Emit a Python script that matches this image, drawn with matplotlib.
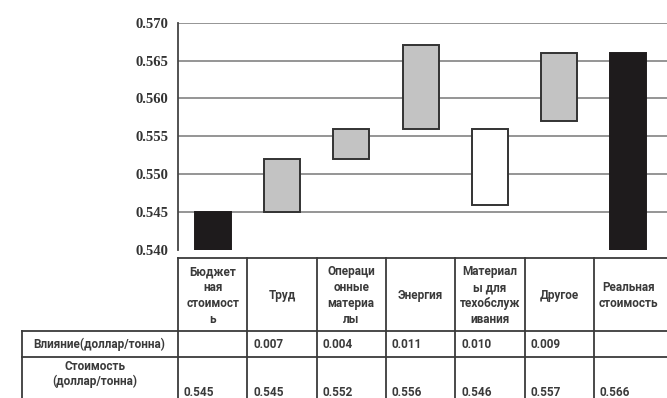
import matplotlib
matplotlib.use("Agg")
import matplotlib.pyplot as plt
import numpy as np

# ---- data ----
categories = ["Бюджет\nная\nстоимост\nь", "Труд", "Операци\nонные\nматериа\nлы",
              "Энергия", "Материал\nы для\nтехобслуж\nивания", "Другое",
              "Реальная\nстоимость"]
impact = [None, 0.007, 0.004, 0.011, 0.010, 0.009, None]
cost = [0.545, 0.545, 0.552, 0.556, 0.546, 0.557, 0.566]
bar_kind = ["total", "up", "up", "up", "white", "up", "total"]
row_labels = ["Влияние(доллар/тонна)", "Стоимость\n(доллар/тонна)"]
y_ticks = [0.540, 0.545, 0.550, 0.555, 0.560, 0.565, 0.570]

W, H = 667, 398
fig = plt.figure(figsize=(W / 100, H / 100), dpi=100)

ax_left, ax_right = 178, 667
ax_top, ax_bot = 22.7, 250
ax = fig.add_axes([ax_left / W, 1 - ax_bot / H, (ax_right - ax_left) / W, (ax_bot - ax_top) / H])

ymin, ymax = y_ticks[0], y_ticks[-1]
n = len(categories)
colw = 69.3
xmax = -0.5 + (ax_right - ax_left) / colw
ax.set_xlim(-0.5, xmax)
ax.set_ylim(ymin, ymax)

colors = {"total": "#1e1b1c", "up": "#c3c3c3", "white": "#ffffff"}
edges = {"total": "#1e1b1c", "up": "#333333", "white": "#333333"}
for i in range(n):
    if impact[i] is None:
        bottom = ymin
        top = cost[i]
    else:
        bottom = cost[i]
        top = cost[i] + impact[i]
    k = bar_kind[i]
    ax.bar(i, top - bottom, bottom=bottom, width=0.52, color=colors[k],
           edgecolor=edges[k], linewidth=1.4, zorder=3)

ax.set_yticks(y_ticks)
ax.set_yticklabels([f"{v:.3f}" for v in y_ticks], fontfamily="Liberation Serif",
                   fontweight="bold", fontsize=10.5, color="#333333")
ax.tick_params(axis="y", length=0, pad=7)
ax.tick_params(axis="x", length=0, labelbottom=False)
for v in y_ticks[1:]:
    ax.axhline(v, color="#8c8c8c", linewidth=1.3, zorder=1)
for s in ["top", "right", "bottom"]:
    ax.spines[s].set_visible(False)
ax.spines["left"].set_color("#444444")
ax.spines["left"].set_linewidth(1.3)

# ---- table (pixel coordinates overlay) ----
tab = fig.add_axes([0, 0, 1, 1])
tab.set_xlim(0, W)
tab.set_ylim(H, 0)
tab.axis("off")

bounds = [ax_left + i * colw for i in range(n + 1)]
lc = "#3a3a3a"
lw = 1.3
y_head_top, y_r1, y_r2, y_end = 258, 331, 357, H + 5
label_left = 22
tab.plot([ax_left, W], [y_head_top, y_head_top], color=lc, lw=lw)
tab.plot([label_left, W], [y_r1, y_r1], color=lc, lw=lw)
tab.plot([label_left, W], [y_r2, y_r2], color=lc, lw=lw)
tab.plot([label_left, label_left], [y_r1, y_end], color=lc, lw=lw)
for b in bounds[:-1]:
    tab.plot([b, b], [y_head_top, y_end], color=lc, lw=lw)

tfont = dict(fontfamily="Roboto", fontweight="bold", fontsize=8.5, color="#3a3a3a")
for i, c in enumerate(categories):
    cx = (bounds[i] + bounds[i + 1]) / 2
    tab.text(cx, (y_head_top + y_r1) / 2 + 1, c, ha="center", va="center",
             linespacing=1.3, **tfont)
    if impact[i] is not None:
        tab.text(bounds[i] + 6, 344, f"{impact[i]:.3f}", ha="left", va="center", **tfont)
    tab.text(bounds[i] + 6, 393, f"{cost[i]:.3f}", ha="left", va="center", **tfont)

tab.text(33, 344, row_labels[0], ha="left", va="center", **tfont)
tab.text(95, 374, row_labels[1], ha="center", va="center", linespacing=1.2, **tfont)

fig.savefig("out.png", dpi=100)
